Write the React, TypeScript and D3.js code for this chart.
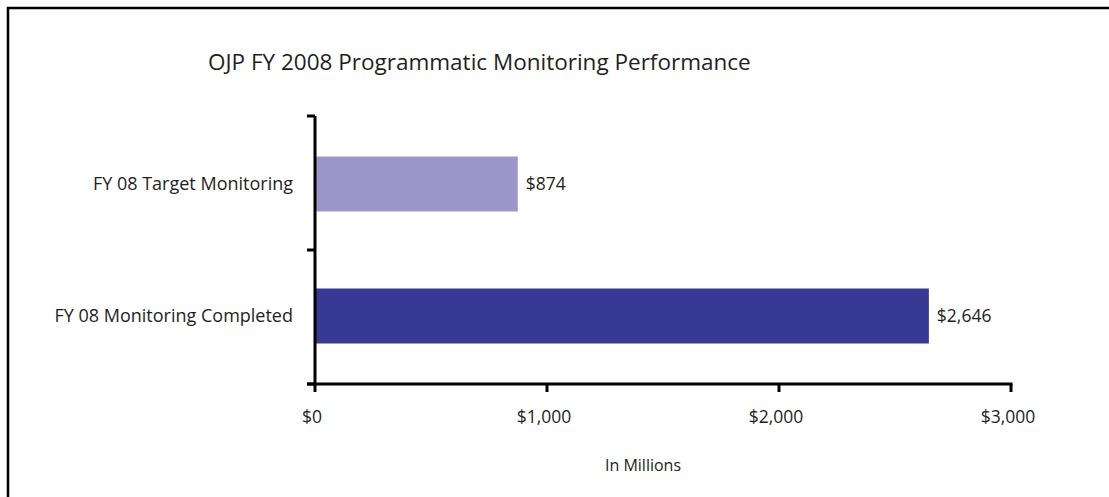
import { useEffect, useRef } from "react";
import * as d3 from "d3";

const categories = ["FY 08 Target Monitoring", "FY 08 Monitoring Completed"];
const amounts = [874, 2646];
const barColors = ["#9d97c9", "#383994"];
const xTicks = [0, 1000, 2000, 3000];

const width = 1109;
const height = 497;

const MARGIN = { top: 116, right: 98, bottom: 113, left: 315 };

const FONT = "'Open Sans', sans-serif";

function App() {
  const svgRef = useRef(null);

  useEffect(() => {
    drawChart();
  }, []);

  const drawChart = () => {
    const svg = d3.select(svgRef.current);
    svg.selectAll("*").remove();

    const plotBottom = height - MARGIN.bottom;
    const plotRight = width - MARGIN.right;

    // outer frame (only top & left show in the crop)
    svg.append("rect")
      .attr("x", 8)
      .attr("y", 8)
      .attr("width", width + 20)
      .attr("height", height + 20)
      .attr("fill", "white")
      .attr("stroke", "#000")
      .attr("stroke-width", 2.5);

    svg.append("text")
      .attr("x", 208)
      .attr("y", 70)
      .attr("font-family", FONT)
      .attr("font-size", 22.5)
      .attr("fill", "#231f20")
      .text("OJP FY 2008 Programmatic Monitoring Performance");

    const xScale = d3.scaleLinear()
      .domain([0, 3000])
      .range([MARGIN.left, plotRight]);

    const yScale = d3.scaleBand()
      .domain(categories)
      .range([MARGIN.top, plotBottom])
      .padding(0);

    const barH = 55;

    // bars
    svg.append("g")
      .selectAll("rect")
      .data(amounts)
      .join("rect")
      .attr("x", xScale(0))
      .attr("y", (d, i) => yScale(categories[i]) + yScale.bandwidth() / 2 - barH / 2 + (i === 0 ? 1 : -1))
      .attr("width", d => xScale(d) - xScale(0))
      .attr("height", barH)
      .attr("fill", (d, i) => barColors[i]);

    // value labels
    svg.append("g")
      .selectAll("text")
      .data(amounts)
      .join("text")
      .attr("x", d => xScale(d) + 8)
      .attr("y", (d, i) => yScale(categories[i]) + yScale.bandwidth() / 2 + 6 + (i === 0 ? 1 : -1))
      .attr("font-family", FONT)
      .attr("font-size", 17.5)
      .attr("fill", "#231f20")
      .text(d => "$" + d3.format(",")(d));

    // y axis
    const yAxis = svg.append("g");
    yAxis.append("line")
      .attr("x1", MARGIN.left).attr("x2", MARGIN.left)
      .attr("y1", MARGIN.top).attr("y2", plotBottom + 1.5)
      .attr("stroke", "#000").attr("stroke-width", 3);
    const yTickPos = [MARGIN.top, ...categories.slice(1).map(c => yScale(c)), plotBottom];
    yAxis.selectAll("line.tick")
      .data(yTickPos)
      .join("line")
      .attr("class", "tick")
      .attr("x1", MARGIN.left - 8).attr("x2", MARGIN.left)
      .attr("y1", d => d).attr("y2", d => d)
      .attr("stroke", "#000").attr("stroke-width", 3);
    yAxis.selectAll("text")
      .data(categories)
      .join("text")
      .attr("x", 293)
      .attr("y", (d, i) => yScale(d) + yScale.bandwidth() / 2 + 7 + (i === 0 ? 0 : -2))
      .attr("text-anchor", "end")
      .attr("font-family", FONT)
      .attr("font-size", 18)
      .attr("fill", "#231f20")
      .text(d => d);

    // x axis
    const xAxis = svg.append("g");
    xAxis.append("line")
      .attr("x1", MARGIN.left - 8).attr("x2", plotRight + 1.5)
      .attr("y1", plotBottom).attr("y2", plotBottom)
      .attr("stroke", "#000").attr("stroke-width", 3);
    xAxis.selectAll("line.tick")
      .data(xTicks)
      .join("line")
      .attr("class", "tick")
      .attr("x1", d => xScale(d)).attr("x2", d => xScale(d))
      .attr("y1", plotBottom).attr("y2", plotBottom + 8)
      .attr("stroke", "#000").attr("stroke-width", 3);
    xAxis.selectAll("text")
      .data(xTicks)
      .join("text")
      .attr("x", d => xScale(d) - 3)
      .attr("y", 423)
      .attr("text-anchor", "middle")
      .attr("font-family", FONT)
      .attr("font-size", 17.5)
      .attr("fill", "#231f20")
      .text(d => "$" + d3.format(",")(d));

    svg.append("text")
      .attr("x", 643)
      .attr("y", 471)
      .attr("text-anchor", "middle")
      .attr("font-family", FONT)
      .attr("font-size", 16)
      .attr("fill", "#231f20")
      .text("In Millions");
  };

  return (
    <div style={{ position: "absolute", left: 0, top: 0 }}>
      <svg width={width} height={height} ref={svgRef} style={{ display: "block" }}></svg>
    </div>
  );
}

export default App;
